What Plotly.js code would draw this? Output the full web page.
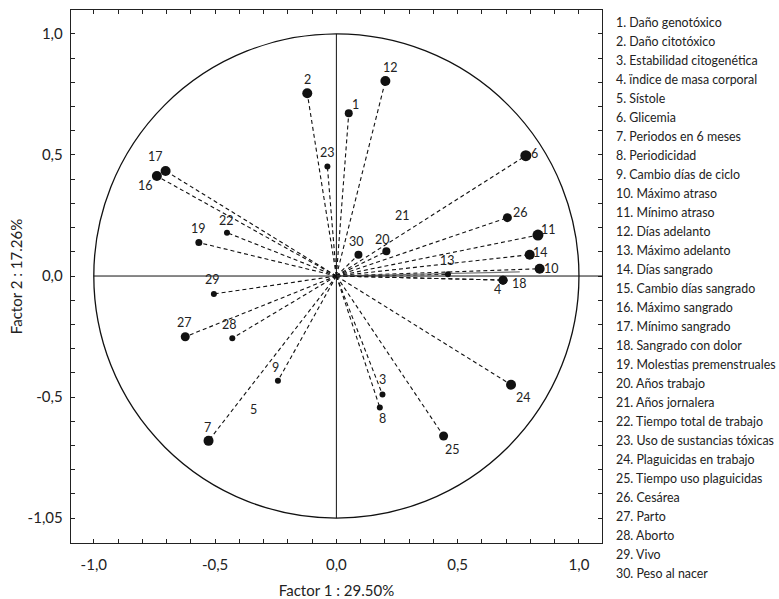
<!DOCTYPE html>
<html>
<head>
<meta charset="utf-8">
<script src="https://cdn.plot.ly/plotly-3.0.1.min.js"></script>
<style>html,body{margin:0;padding:0;background:#fff;}#chart{width:779px;height:599px;}</style>
</head>
<body>
<div id="chart"></div>
<script>
// Variable numbers and names (legend)
const varNumbers = [1,2,3,4,5,6,7,8,9,10,11,12,13,14,15,16,17,18,19,20,21,22,23,24,25,26,27,28,29,30];
const varNames = [
  "Daño genotóxico","Daño citotóxico","Estabilidad citogenética","ïndice de masa corporal","Sístole",
  "Glicemia","Periodos en 6 meses","Periodicidad","Cambio días de ciclo","Máximo atraso",
  "Mínimo atraso","Días adelanto","Máximo adelanto","Días sangrado","Cambio días sangrado",
  "Máximo sangrado","Mínimo sangrado","Sangrado con dolor","Molestias premenstruales","Años trabajo",
  "Años jornalera","Tiempo total de trabajo","Uso de sustancias tóxicas","Plaguicidas en trabajo","Tiempo uso plaguicidas",
  "Cesárea","Parto","Aborto","Vivo","Peso al nacer"
];
// Loadings on Factor 1 and Factor 2
const factor1 = [0.051,-0.120,0.190,0.687,-0.340,0.781,-0.527,0.179,-0.241,0.838,
                 0.831,0.202,0.460,0.797,0.756,-0.740,-0.704,0.687,-0.567,0.206,
                 0.271,-0.451,-0.037,0.720,0.442,0.705,-0.623,-0.429,-0.505,0.091];
const factor2 = [0.672,0.755,-0.490,-0.017,-0.551,0.497,-0.681,-0.543,-0.433,0.030,
                 0.169,0.806,0.007,0.088,0.017,0.413,0.434,-0.017,0.138,0.102,
                 0.252,0.179,0.452,-0.449,-0.661,0.241,-0.251,-0.257,-0.074,0.088];
// Axis ticks
const tickValues = [-1,-0.9,-0.8,-0.7,-0.6,-0.5,-0.4,-0.3,-0.2,-0.1,0,0.1,0.2,0.3,0.4,0.5,0.6,0.7,0.8,0.9,1];
const xTickText = ["-1,0","","","","","-0,5","","","","","0,0","","","","","0,5","","","","","1,0"];
const yTickText = ["-1,05","","","","","-0,5","","","","","0,0","","","","","0,5","","","","","1,0"];

// ---- styling (not data) ----
const lineStyle = ["d","d","d","d","n","d","d","d","d","d","d","d","d","d","s","d","d","d","d","d","n","d","d","d","d","d","d","d","d","d"];
const markerSizes = [8,10,6,9,0,11,10,6,6,10,11,10,6,10,0,10,10,9,7,8,0,6,6,10,9,9,9,6,6,8];
const labelDx = [7,0,0,-6,0,9,-1,3,-2,12,11,5,0,11,0,-11,-10,16,0,-4,0,0,0,12,9,13,-1,-3,-1,-2];
const labelDy = [-9,-14,-15,9,0,-2,-13,11,-13,0,-6,-13,-14,-2,0,9,-14,3,-14,-12,0,-12,-14,13,13,-5,-14,-14,-14,-13];
const showLabel = varNumbers.map(n => n !== 15);

const FONT = "Lato, 'Open Sans', sans-serif";

const dx = [], dy = [], sx = [], sy = [];
factor1.forEach((v, i) => {
  if (lineStyle[i] === "d") { dx.push(0, v, null); dy.push(0, factor2[i], null); }
  if (lineStyle[i] === "s") { sx.push(0, v, null); sy.push(0, factor2[i], null); }
});
const mx = [], my = [], ms = [];
factor1.forEach((v, i) => { if (markerSizes[i] > 0) { mx.push(v); my.push(factor2[i]); ms.push(markerSizes[i]); } });

const traces = [
  {type:"scatter", mode:"lines", x:dx, y:dy, line:{color:"#111", width:1.1, dash:"4px,3px"}, hoverinfo:"skip", showlegend:false},
  {type:"scatter", mode:"lines", x:sx, y:sy, line:{color:"#777", width:1.2}, hoverinfo:"skip", showlegend:false},
  {type:"scatter", mode:"markers", x:mx, y:my, marker:{color:"#111", size:ms, opacity:1, line:{width:0}}, showlegend:false}
];

const annotations = [];
varNumbers.forEach((n, i) => {
  if (!showLabel[i]) return;
  annotations.push({x:factor1[i], y:factor2[i], xref:"x", yref:"y", text:String(n), showarrow:false,
    xshift:labelDx[i], yshift:-labelDy[i], font:{family:FONT, size:12.5, color:"#222"}});
});
varNames.forEach((name, i) => {
  annotations.push({xref:"paper", yref:"paper", x:1.023, y:(543 - 22.7 - 19*i)/533, xanchor:"left", yanchor:"middle",
    text:varNumbers[i] + ". " + name, showarrow:false, font:{family:FONT, size:12.4, color:"#222"}});
});

const axisCommon = {showgrid:false, zeroline:false, showline:true, mirror:"ticks", linecolor:"#222", linewidth:1.3,
  ticks:"inside", ticklen:4, tickwidth:1, tickcolor:"#222", tickmode:"array", tickvals:tickValues,
  tickfont:{family:FONT, size:15, color:"#222"}, fixedrange:true};

const layout = {
  width:779, height:599,
  margin:{l:71, r:177, t:10, b:56},
  paper_bgcolor:"#fff", plot_bgcolor:"#fff",
  showlegend:false,
  font:{family:FONT, color:"#222"},
  xaxis:Object.assign({}, axisCommon, {range:[-1.094,1.095], ticktext:xTickText, ticklabelstandoff:8,
    title:{text:"Factor 1 : 29.50%", font:{family:FONT, size:15, color:"#222"}, standoff:14}}),
  yaxis:Object.assign({}, axisCommon, {range:[-1.103,1.099], ticktext:yTickText, ticklabelstandoff:4,
    title:{text:"Factor 2 : 17.26%", font:{family:FONT, size:15, color:"#222"}, standoff:1}}),
  shapes:[
    {type:"circle", xref:"x", yref:"y", x0:-1, y0:-1, x1:1, y1:1, line:{color:"#111", width:1.3}},
    {type:"line", xref:"x", yref:"y", x0:0, y0:-1, x1:0, y1:1, line:{color:"#111", width:1}},
    {type:"line", xref:"x", yref:"y", x0:-1, y0:0, x1:1.095, y1:0, line:{color:"#111", width:1}}
  ],
  annotations:annotations
};

Plotly.newPlot("chart", traces, layout, {displayModeBar:false, staticPlot:true});
</script>
</body>
</html>
